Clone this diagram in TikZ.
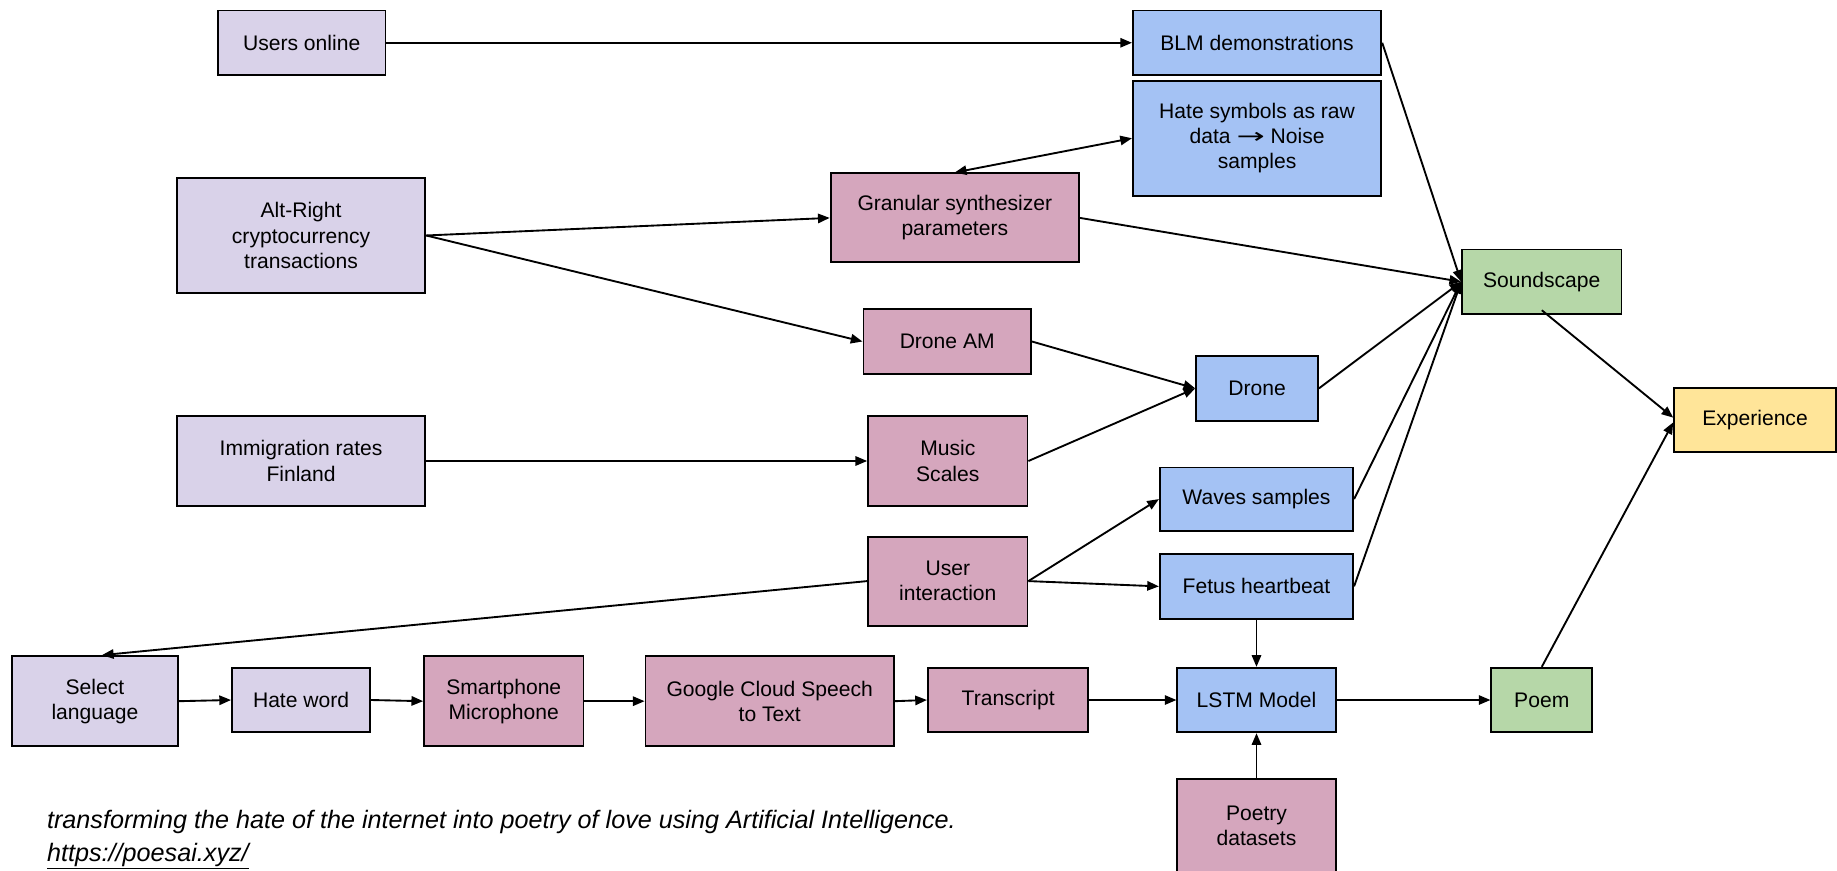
\documentclass[tikz,border=0pt]{standalone}
\usepackage{fontspec}
\setmainfont{Liberation Sans}
\newfontfamily\symfont{DejaVu Sans}
\usetikzlibrary{arrows.meta,calc}

\definecolor{lav}{HTML}{D9D2E9}
\definecolor{mauve}{HTML}{D5A6BD}
\definecolor{skyb}{HTML}{A4C2F4}
\definecolor{leaf}{HTML}{B6D7A8}
\definecolor{sun}{HTML}{FFE599}

\tikzset{
  box/.style={draw=black, line width=1.6pt, inner sep=0pt, align=center,
    font=\fontsize{18}{21.5}\selectfont},
  inbox/.style={box, fill=lav},
  procbox/.style={box, fill=mauve},
  databox/.style={box, fill=skyb},
  outbox/.style={box, fill=leaf},
  finalbox/.style={box, fill=sun},
  flow/.style={line width=1.6pt, -{Triangle[length=10pt,width=8pt]}},
  dflow/.style={line width=1.6pt, {Triangle[length=10pt,width=8pt]}-{Triangle[length=10pt,width=8pt]}},
  captext/.style={anchor=west, inner sep=0pt, font=\fontsize{21.5}{25}\selectfont\itshape},
}

\begin{document}
\begin{tikzpicture}[x=1pt, y=-1pt]
\useasboundingbox (0,0) rectangle (1568,743);
\clip (0,0) rectangle (1568,743);

% sources
\node[inbox, minimum width=143pt, minimum height=55pt] (users) at (257.5,36.5) {Users online};
\node[inbox, minimum width=212pt, minimum height=98pt] (alt) at (257,201) {Alt-Right\\cryptocurrency\\transactions};
\node[inbox, minimum width=212pt, minimum height=77pt] (imm) at (257,393.5) {Immigration rates\\Finland};

% sound data
\node[databox, minimum width=212pt, minimum height=55pt] (blm) at (1073,36.5) {BLM demonstrations};
\node[databox, minimum width=212pt, minimum height=98pt] (hate) at (1073,118) {Hate symbols as raw\\data \scalebox{1.6}[1]{\symfont →} Noise\\samples};
\node[databox, minimum width=104pt, minimum height=55pt] (drone) at (1073,331.5) {Drone};
\node[databox, minimum width=165pt, minimum height=54pt] (waves) at (1072.5,426) {Waves samples};
\node[databox, minimum width=165pt, minimum height=55pt] (fetus) at (1072.5,500.5) {Fetus heartbeat};

% processing
\node[procbox, minimum width=212pt, minimum height=76pt] (gran) at (815,186) {Granular synthesizer\\parameters};
\node[procbox, minimum width=143pt, minimum height=55pt] (droneam) at (808.5,291.5) {Drone AM};
\node[procbox, minimum width=136pt, minimum height=77pt] (music) at (809,393.5) {Music\\Scales};
\node[procbox, minimum width=136pt, minimum height=76pt] (user) at (809,496) {User\\interaction};

% outputs
\node[outbox, minimum width=136pt, minimum height=55pt] (snd) at (1316,240.5) {Soundscape};
\node[finalbox, minimum width=138pt, minimum height=55pt] (exp) at (1498,358.5) {Experience};

% speech chain
\node[inbox, minimum width=142pt, minimum height=77pt] (sel) at (81,598.5) {Select\\language};
\node[inbox, minimum width=118pt, minimum height=55pt] (hw) at (257,597.5) {Hate word};
\node[procbox, minimum width=136pt, minimum height=77pt] (smart) at (430,598.5) {Smartphone\\Microphone};
\node[procbox, minimum width=212pt, minimum height=77pt] (google) at (657,598.5) {Google Cloud Speech\\to Text};
\node[procbox, minimum width=137pt, minimum height=55pt] (trans) at (860.5,597.5) {Transcript};
\node[databox, minimum width=135pt, minimum height=55pt] (lstm) at (1072.5,597.5) {LSTM Model};
\node[outbox, minimum width=86pt, minimum height=55pt] (poem) at (1316,597.5) {Poem};
\node[procbox, minimum width=135pt, minimum height=80pt] (poetry) at (1072.5,705) {Poetry\\datasets};

% caption
\node[captext] (cap) at (40,702)
  {transforming the hate of the internet into poetry of love using Artificial Intelligence.};
\node[captext] (url) at (40,731) {\underline{https://poesai.xyz/}};

% connectors
\draw[flow] (users) -- (blm);
\draw[flow] (alt.east) -- (gran.west);
\draw[flow] (alt.east) -- (droneam.west);
\draw[dflow] (gran.north) -- (hate.west);
\draw[flow] (gran.east) -- (snd.west);
\draw[flow] (blm.east) -- (snd.west);
\draw[flow] (droneam.east) -- (drone.west);
\draw[flow] (music.east) -- (drone.west);
\draw[flow] (drone.east) -- (snd.west);
\draw[flow] (waves.east) -- (snd.west);
\draw[flow] (fetus.east) -- (snd.west);
\draw[flow] (imm.east) -- (music.west);
\draw[flow] (user.west) -- ($(sel.north)+(6,0)$);
\draw[flow] (user.east) -- (waves.west);
\draw[flow] (user.east) -- (fetus.west);
\draw[flow] (fetus.south) -- (lstm.north);
\draw[flow] (sel.east) -- (hw.west);
\draw[flow] (hw.east) -- (smart.west);
\draw[flow] (smart.east) -- (google.west);
\draw[flow] (google.east) -- (trans.west);
\draw[flow] (trans.east) -- (lstm.west);
\draw[flow] (lstm.east) -- (poem.west);
\draw[flow] (poetry.north) -- (lstm.south);
\draw[flow] ($(snd.south)+(0,-4)$) -- ($(exp.west)+(0,-2)$);
\draw[flow] (poem.north) -- ($(exp.west)+(0,2)$);
\end{tikzpicture}
\end{document}
